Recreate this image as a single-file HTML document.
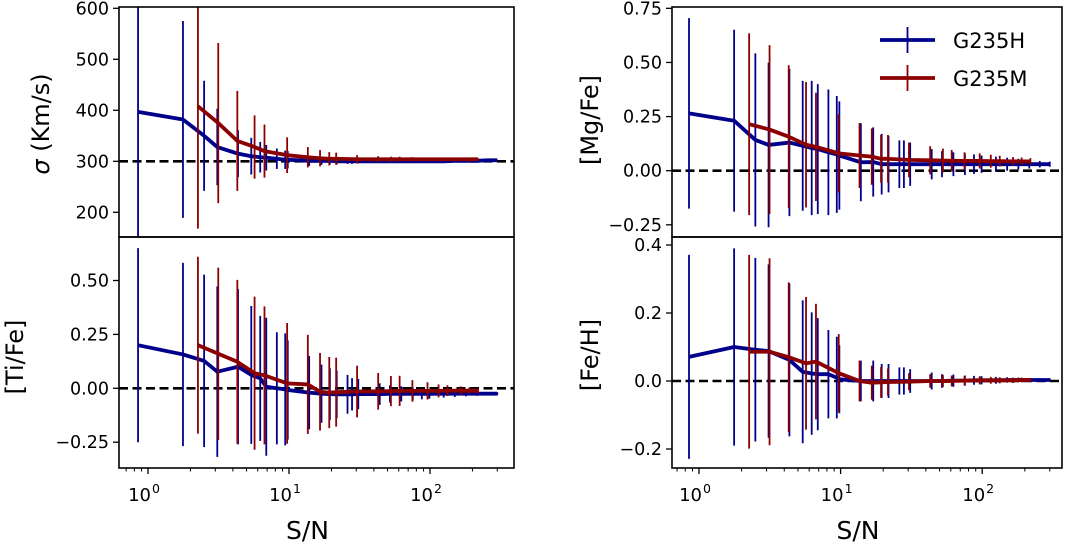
<!DOCTYPE html>
<html><head><meta charset="utf-8"><style>
html,body{margin:0;padding:0;background:#fff;}
svg{display:block;font-family:"DejaVu Sans","Liberation Sans",sans-serif;}
</style></head><body>
<svg id="fig" width="1068" height="543" viewBox="0 0 1068 543" xmlns="http://www.w3.org/2000/svg"></svg>
<script>
const snBlue = [0.85,1.77,2.5,3.1,4.35,5.4,6.25,6.9,8.2,9.4,9.8,13.9,17,19.5,21.8,26,28,31,44,52,62.6,75.5,87.5,99,125,150,180,215,255,300];
const snRed = [2.26,3.15,4.3,5.7,6.7,9.7,13.6,16.6,19.3,21.6,30.4,42.9,52.8,60.9,75,96,115,133,165,190,219];

const sigBlue = [397,382,350,328,315,310,308,307,305,303,303,301,301,301,300,300,300,300,300,300,300,300,300,300,300,301,301,301,302,302];
const sigBlueErr = [420,193,108,75,46,36,30,25,20,18,17,10,8,7,6,5,5,4,3,3,2,2,2,2,2,1,1,1,1,1];
const sigRed = [408,375,340,328,320,312,308,306,305,305,304,304,304,304,304,304,304,304,304,304,304];
const sigRedErr = [240,157,98,62,52,35,20,16,13,12,8,6,5,5,4,3,3,2,2,2,2];

const tiBlue = [0.20,0.157,0.127,0.077,0.10,0.062,0.046,0.007,0.0,-0.005,-0.008,-0.02,-0.025,-0.027,-0.028,-0.028,-0.028,-0.027,-0.027,-0.026,-0.026,-0.026,-0.026,-0.026,-0.025,-0.025,-0.025,-0.025,-0.025,-0.025];
const tiBlueErr = [0.45,0.425,0.40,0.395,0.36,0.32,0.29,0.32,0.26,0.26,0.23,0.17,0.135,0.12,0.11,0.09,0.075,0.07,0.05,0.04,0.035,0.03,0.025,0.022,0.018,0.015,0.012,0.01,0.008,0.007];
const tiRed = [0.20,0.16,0.123,0.07,0.06,0.023,0.018,-0.016,-0.02,-0.018,-0.015,-0.014,-0.013,-0.012,-0.012,-0.012,-0.012,-0.011,-0.011,-0.011,-0.011];
const tiRedErr = [0.41,0.40,0.38,0.355,0.32,0.28,0.23,0.18,0.165,0.16,0.12,0.085,0.07,0.07,0.05,0.04,0.03,0.025,0.02,0.015,0.012];

const mgBlue = [0.265,0.231,0.142,0.119,0.13,0.115,0.105,0.10,0.085,0.075,0.07,0.039,0.04,0.03,0.03,0.03,0.03,0.03,0.03,0.03,0.03,0.03,0.03,0.03,0.03,0.03,0.03,0.03,0.03,0.03];
const mgBlueErr = [0.44,0.42,0.40,0.38,0.34,0.30,0.31,0.30,0.29,0.27,0.25,0.18,0.16,0.14,0.13,0.11,0.11,0.10,0.07,0.06,0.055,0.05,0.045,0.04,0.035,0.03,0.025,0.02,0.015,0.012];
const mgRed = [0.215,0.19,0.157,0.12,0.11,0.08,0.07,0.065,0.055,0.055,0.05,0.048,0.047,0.046,0.045,0.045,0.044,0.044,0.043,0.043,0.043];
const mgRedErr = [0.42,0.39,0.33,0.29,0.25,0.18,0.15,0.13,0.11,0.11,0.08,0.065,0.055,0.05,0.04,0.035,0.03,0.025,0.02,0.018,0.015];

const feBlue = [0.071,0.10,0.092,0.088,0.062,0.027,0.022,0.02,0.02,0.01,0.005,0,0,0,0,0,0,0,0,0,0.001,0.001,0.002,0.002,0.002,0.003,0.003,0.003,0.003,0.003];
const feBlueErr = [0.30,0.29,0.27,0.255,0.225,0.21,0.18,0.165,0.13,0.12,0.10,0.06,0.06,0.05,0.05,0.04,0.04,0.035,0.025,0.02,0.018,0.015,0.013,0.012,0.01,0.008,0.007,0.006,0.005,0.005];
const feRed = [0.086,0.086,0.07,0.052,0.057,0.023,0.0,-0.005,-0.004,-0.003,-0.002,0,0,0,0.001,0.002,0.002,0.002,0.002,0.003,0.003];
const feRedErr = [0.285,0.275,0.22,0.195,0.17,0.115,0.06,0.05,0.045,0.04,0.025,0.02,0.018,0.016,0.014,0.012,0.01,0.009,0.008,0.007,0.006];

const sigTicks = [200,300,400,500,600];
const sigTickLabels = ["200","300","400","500","600"];
const tiTicks = [-0.25,0,0.25,0.5];
const tiTickLabels = ["\u22120.25","0.00","0.25","0.50"];
const mgTicks = [-0.25,0,0.25,0.5,0.75];
const mgTickLabels = ["\u22120.25","0.00","0.25","0.50","0.75"];
const feTicks = [-0.2,0,0.2,0.4];
const feTickLabels = ["\u22120.2","0.0","0.2","0.4"];
const xDecades = [0,1,2];

const NS = "http://www.w3.org/2000/svg";
const svg = document.getElementById("fig");
function mk(tag, attrs, parent){
  const e = document.createElementNS(NS, tag);
  for (const k in attrs) e.setAttribute(k, attrs[k]);
  (parent||svg).appendChild(e);
  return e;
}
const BLUE = "#00008b", RED = "#8b0000";

const panels = [
  {name:"sigma", x0:119,x1:514,y0:7,y1:237, xRef:148, xPer:141, vRef:600, yRef:8.3, yPer:0.51,
   bV:sigBlue,bE:sigBlueErr,rV:sigRed,rE:sigRedErr,ticks:sigTicks,labels:sigTickLabels,
   ylabel:null, ylx:41, lcy:124, bottom:false},
  {name:"ti-fe", x0:119,x1:514,y0:237,y1:468, xRef:148, xPer:141, vRef:0, yRef:388.3, yPer:215.6,
   bV:tiBlue,bE:tiBlueErr,rV:tiRed,rE:tiRedErr,ticks:tiTicks,labels:tiTickLabels,
   ylabel:"[Ti/Fe]", ylx:15, lcy:357, bottom:true},
  {name:"mg-fe", x0:672,x1:1062,y0:7,y1:237, xRef:699, xPer:141.6, vRef:0, yRef:170.7, yPer:216.5,
   bV:mgBlue,bE:mgBlueErr,rV:mgRed,rE:mgRedErr,ticks:mgTicks,labels:mgTickLabels,
   ylabel:"[Mg/Fe]", ylx:590, lcy:120, bottom:false},
  {name:"fe-h", x0:672,x1:1062,y0:237,y1:468, xRef:699, xPer:141.6, vRef:0, yRef:381, yPer:340,
   bV:feBlue,bE:feBlueErr,rV:feRed,rE:feRedErr,ticks:feTicks,labels:feTickLabels,
   ylabel:"[Fe/H]", ylx:590, lcy:355, bottom:true}
];

const defs = mk("defs", {});
panels.forEach((p, pi) => {
  const xs = v => p.xRef + p.xPer*Math.log10(v);
  const ys = v => p.yRef - (v - p.vRef)*p.yPer;
  const cp = mk("clipPath", {id:"clip"+pi}, defs);
  mk("rect", {x:p.x0, y:p.y0, width:p.x1-p.x0, height:p.y1-p.y0}, cp);

  const g = mk("g", {"clip-path":"url(#clip"+pi+")"});
  
  

  const zv = p.name==="sigma"?300:0;
  const z = mk("line", {x1:p.x0, x2:p.x1, y1:ys(zv), y2:ys(zv), stroke:"#000","stroke-width":2.6,"stroke-dasharray":"9,4.5"}, g);
  
  

  function series(sn, vals, errs, color, label){
    const sg = mk("g", {}, g);
    
    
    sn.forEach((s, i) => {
      const b = mk("line", {x1:xs(s), x2:xs(s), y1:ys(vals[i]-errs[i]), y2:ys(vals[i]+errs[i]), stroke:color, "stroke-width":1.8}, sg);
      
      
    });
    const pts = sn.map((s,i)=> xs(s).toFixed(2)+","+ys(vals[i]).toFixed(2)).join(" ");
    const l = mk("polyline", {points:pts, fill:"none", stroke:color, "stroke-width":3.8, "stroke-linejoin":"round"}, sg);
    
    
  }
  series(snBlue, p.bV, p.bE, BLUE, "g235h");
  series(snRed, p.rV, p.rE, RED, "g235m");

  const fr = mk("rect", {x:p.x0, y:p.y0, width:p.x1-p.x0, height:p.y1-p.y0, fill:"none", stroke:"#000", "stroke-width":1.6});
  
  

  p.ticks.forEach((t, i) => {
    const y = ys(t);
    const tk = mk("line", {x1:p.x0-6, x2:p.x0, y1:y, y2:y, stroke:"#000", "stroke-width":1.3});
    
    
    const tx = mk("text", {x:p.x0-10, y:y+6, "text-anchor":"end", "font-size":17.5, fill:"#000"});
    tx.textContent = p.labels[i];
    
    
  });

  const cy = p.lcy;
  const yl = mk("text", {x:p.ylx, y:cy, transform:"rotate(-90 "+p.ylx+" "+cy+")", "text-anchor":"middle", "font-size":24, fill:"#000", "dominant-baseline":"central"});
  if (p.ylabel === null){
    const s = mk("tspan", {"font-style":"italic"}, yl);
    s.textContent = "\u03c3";
    const r = mk("tspan", {}, yl);
    r.textContent = " (Km/s)";
  } else {
    yl.textContent = p.ylabel;
  }
  
  

  if (p.bottom){
    xDecades.forEach(d => {
      const x = xs(Math.pow(10,d));
      const tk = mk("line", {x1:x, x2:x, y1:p.y1, y2:p.y1+6, stroke:"#000", "stroke-width":1.3});
      
      
      const tx = mk("text", {x:x-4, y:501, "text-anchor":"middle", "font-size":18, fill:"#000"});
      tx.textContent = "10";
      const sup = mk("tspan", {dx:"1", dy:"-8", "font-size":12.5}, tx);
      sup.textContent = String(d);
      
      
    });
    for (let d=-1; d<=2; d++){
      for (let m=2; m<=9; m++){
        const v = m*Math.pow(10,d);
        const x = xs(v);
        if (x < p.x0 || x > p.x1) continue;
        const mt = mk("line", {x1:x, x2:x, y1:p.y1, y2:p.y1+3.5, stroke:"#000", "stroke-width":1});
        
        
      }
    }
    const xl = mk("text", {x:(p.x0+p.x1)/2 - 9, y:539, "text-anchor":"middle", "font-size":25, fill:"#000"});
    xl.textContent = "S/N";
    
    
  }
});

const lg = mk("g", {});


[["G235H", BLUE, 40], ["G235M", RED, 78]].forEach(([lab, col, y]) => {
  const e = mk("g", {}, lg);
  
  
  mk("line", {x1:880, x2:935, y1:y, y2:y, stroke:col, "stroke-width":3.8}, e);
  mk("line", {x1:907.5, x2:907.5, y1:y-13, y2:y+13, stroke:col, "stroke-width":1.8}, e);
  const t = mk("text", {x:953, y:y+8, "font-size":21, fill:"#000"}, e);
  t.textContent = lab;
});
</script>
</body></html>
